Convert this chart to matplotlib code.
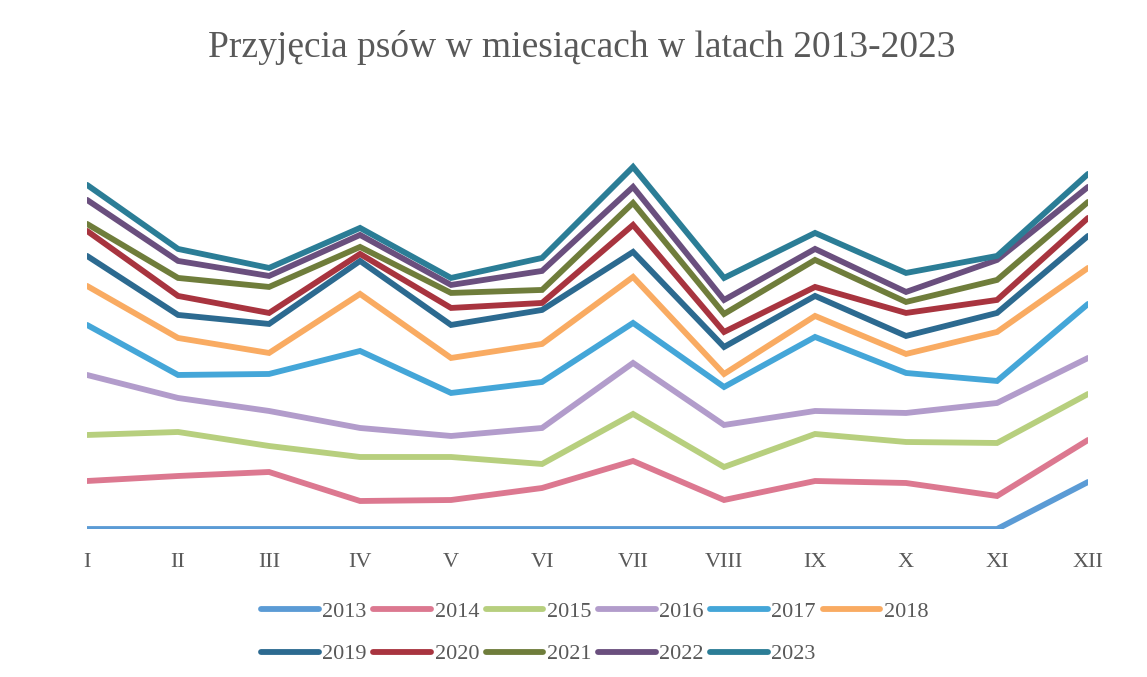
import numpy as np
import matplotlib
matplotlib.use("Agg")
import matplotlib.pyplot as plt

months = ["I", "II", "III", "IV", "V", "VI", "VII", "VIII", "IX", "X", "XI", "XII"]
years = ["2013", "2014", "2015", "2016", "2017", "2018",
         "2019", "2020", "2021", "2022", "2023"]

# monthly intakes per year (the chart stacks them year on year)
y2013 = [0, 0, 0, 0, 0, 0, 0, 0, 0, 0, 0, 47]
y2014 = [48, 53, 57, 28, 29, 41, 68, 29, 48, 46, 33, 42]
y2015 = [46, 44, 26, 44, 43, 24, 47, 33, 47, 41, 53, 46]
y2016 = [60, 34, 35, 29, 21, 36, 51, 42, 23, 29, 40, 36]
y2017 = [50, 23, 37, 77, 43, 46, 40, 38, 74, 40, 22, 54]
y2018 = [39, 37, 21, 57, 35, 38, 46, 13, 21, 19, 49, 36]
y2019 = [30, 23, 29, 33, 33, 34, 25, 27, 20, 18, 19, 32]
y2020 = [25, 19, 11, 7, 17, 7, 27, 15, 9, 23, 13, 18]
y2021 = [7, 18, 26, 7, 15, 13, 22, 18, 27, 11, 20, 16]
y2022 = [24, 17, 11, 12, 8, 19, 16, 14, 11, 10, 20, 15]
y2023 = [15, 12, 8, 7, 7, 13, 20, 22, 16, 19, 4, 13]

colors = ["#5b9bd5", "#dc7890", "#b7cf7e", "#b29ccb", "#44a6d8", "#f9ab62",
          "#2c6a90", "#a8343f", "#6f7d3b", "#6a4f7e", "#2b7d96"]

data = np.array([y2013, y2014, y2015, y2016, y2017, y2018,
                 y2019, y2020, y2021, y2022, y2023])
stacked = np.cumsum(data, axis=0)

plt.rcParams["font.family"] = ["Liberation Serif", "DejaVu Serif"]
text_color = "#595959"

fig = plt.figure(figsize=(11.47, 6.77), dpi=100)
ax = fig.add_axes([0.0759, 0.2186, 0.8727, 0.591])

x = np.arange(len(months))
lines = []
for i, yr in enumerate(years):
    ln, = ax.plot(x, stacked[i], color=colors[i], lw=4.2,
                  solid_capstyle="round", solid_joinstyle="miter", label=yr)
    lines.append(ln)

ax.set_xlim(0, 11)
ax.set_ylim(0, 400)
ax.set_xticks(x)
ax.set_xticklabels(months, fontsize=16, color=text_color)
ax.tick_params(axis="x", length=0, pad=17)
ax.set_yticks([])
for s in ax.spines.values():
    s.set_visible(False)

fig.text(0.507, 0.93, "Przyjęcia psów w miesiącach w latach 2013-2023",
         ha="center", va="center", fontsize=27, color=text_color)

# legend goes row by row like the original, so reorder for column-major fill
order = [0, 6, 1, 7, 2, 8, 3, 9, 4, 10, 5]
leg = fig.legend([lines[i] for i in order], [years[i] for i in order],
                 ncol=6, loc="upper left", bbox_to_anchor=(0.218, 0.128),
                 frameon=False, fontsize=16, handlelength=2.6,
                 handletextpad=0.15, columnspacing=0.3, labelspacing=0.98,
                 borderpad=0)
for t in leg.get_texts():
    t.set_color(text_color)

fig.savefig("out.png", dpi=100)
